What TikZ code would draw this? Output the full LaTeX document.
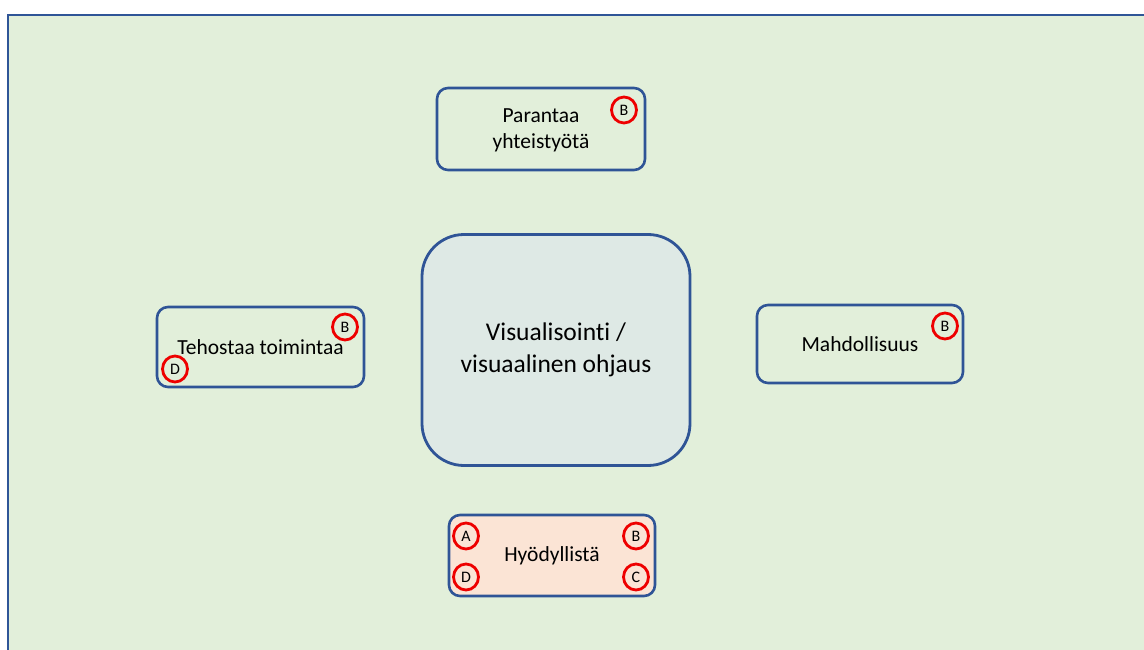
\documentclass[tikz,border=0pt]{standalone}
\usepackage{fontspec}
\setmainfont{Carlito}[Ligatures={NoCommon}]
\usetikzlibrary{shapes.geometric}
\definecolor{bgreen}{HTML}{E2EFDA}
\definecolor{frameblue}{HTML}{2F5597}
\definecolor{boxblue}{HTML}{2F5496}
\definecolor{centerfill}{HTML}{DEE9E5}
\definecolor{peach}{HTML}{FBE4D5}
\definecolor{markred}{HTML}{EE0000}
\tikzset{
  x=1pt, y=-1pt,
  topic/.style={draw=boxblue, line width=2.6pt, rounded corners=11pt, inner sep=0pt,
    align=center, font=\fontsize{21.5}{26}\selectfont, text=black},
  hub/.style={draw=boxblue, fill=centerfill, line width=2.8pt, rounded corners=42pt,
    inner sep=0pt, align=center, font=\fontsize{25.5}{32}\selectfont, text=black},
  tag/.style={draw=markred, line width=2.8pt, ellipse, minimum width=25pt, minimum height=26pt,
    inner sep=0pt, font=\fontsize{16}{16}\selectfont, text=black}
}
\begin{document}
\begin{tikzpicture}
\useasboundingbox (0,0) rectangle (1144,650);
% background panel with its frame on the top and left edges
\fill[white] (0,0) rectangle (1144,650);
\fill[bgreen] (8,15) rectangle (1150,656);
\draw[frameblue, line width=1.6pt] (8,656) -- (8,15) -- (1150,15);

% central concept
\node[hub, minimum width=268pt, minimum height=231pt] (hub) at (556,350)
  {Visualisointi /\\visuaalinen ohjaus};

% surrounding topics
\node[topic, minimum width=208pt, minimum height=82pt] (top) at (541,129) {};
\node[align=center, font=\fontsize{21.5}{26}\selectfont] (toptext) at (541,130.5) {Parantaa\\yhteistyötä};
\node[topic, minimum width=207pt, minimum height=80pt] (left) at (260.5,347) {Tehostaa toimintaa};
\node[topic, minimum width=206pt, minimum height=78pt] (right) at (860,344) {Mahdollisuus};
\node[topic, fill=peach, minimum width=206pt, minimum height=81pt] (bottom) at (552,555.5) {Hyödyllistä};

% letter tags
\node[tag] (topB) at (624,110) {B};
\node[tag] (leftB) at (345,327) {B};
\node[tag] (leftD) at (175,369) {D};
\node[tag] (rightB) at (945,326) {B};
\node[tag] (botA) at (466,536) {A};
\node[tag] (botB) at (636,536) {B};
\node[tag] (botD) at (466,577) {D};
\node[tag] (botC) at (636,577) {C};
\end{tikzpicture}
\end{document}
